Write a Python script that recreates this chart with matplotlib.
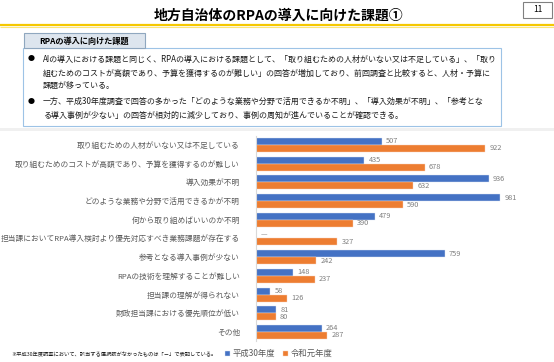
import matplotlib
matplotlib.use("Agg")
import matplotlib.pyplot as plt
from matplotlib.patches import Rectangle

plt.rcParams['font.family'] = ['Noto Sans CJK JP', 'DejaVu Sans']

# ---------------- data ----------------
categories = [
    "取り組むための人材がいない又は不足している",
    "取り組むためのコストが高額であり、予算を獲得するのが難しい",
    "導入効果が不明",
    "どのような業務や分野で活用できるかが不明",
    "何から取り組めばいいのか不明",
    "担当課においてRPA導入検討より優先対応すべき業務課題が存在する",
    "参考となる導入事例が少ない",
    "RPAの技術を理解することが難しい",
    "担当課の理解が得られない",
    "財政担当課における優先順位が低い",
    "その他",
]
h30 = [507, 435, 936, 981, 479, None, 759, 148, 58, 81, 264]
r1 = [922, 678, 632, 590, 390, 327, 242, 237, 126, 80, 287]
series_names = ["平成30年度", "令和元年度"]

title = "地方自治体のRPAの導入に向けた課題①"
page_no = "11"
tab_title = "RPAの導入に向けた課題"
bullet_lines = [
    ["AIの導入における課題と同じく、RPAの導入における課題として、「取り組むための人材がいない又は不足している」、「取り",
     "組むためのコストが高額であり、予算を獲得するのが難しい」の回答が増加しており、前回調査と比較すると、人材・予算に",
     "課題が移っている。"],
    ["一方、平成30年度調査で回答の多かった「どのような業務や分野で活用できるか不明」、「導入効果が不明」、「参考とな",
     "る導入事例が少ない」の回答が相対的に減少しており、事例の周知が進んでいることが確認できる。"],
]
footnote = "※平成30年度調査において、該当する選択肢がなかったものは「－」で表記している。"

BLUE = "#4472C4"
ORANGE = "#ED7D31"

W, H = 554, 362
fig = plt.figure(figsize=(W / 100, H / 100), dpi=100)

# overlay in pixel coordinates
ov = fig.add_axes([0, 0, 1, 1], zorder=0)
ov.set_xlim(0, W)
ov.set_ylim(H, 0)
ov.axis('off')

# title
ov.text(279, 16, title, ha='center', va='center', fontsize=10, fontweight='bold', color='#000000')
# gold line
ov.plot([0, W], [25, 25], color='#F5C800', lw=1.6, solid_capstyle='butt')
ov.plot([0, W], [26.5, 26.5], color='#FBE57A', lw=0.8, solid_capstyle='butt')
# page number box
ov.add_patch(Rectangle((523, 2), 29, 15.5, fill=False, edgecolor='#808080', lw=0.8))
ov.text(537.5, 10, page_no, ha='center', va='center', fontsize=6, color='#000000')

# text box
ov.add_patch(Rectangle((23, 48), 478, 78, facecolor='white', edgecolor='#9DC3E6', lw=0.8))
ov.add_patch(Rectangle((24, 33), 121, 15, facecolor='#DDE5EE', edgecolor='#8FA7BF', lw=0.8))
ov.text(84.5, 41, tab_title, ha='center', va='center', fontsize=5.9, fontweight='bold', color='#000000')

line_y = [[59, 73, 86.5], [101.5, 115]]
for lines, ys in zip(bullet_lines, line_y):
    ov.text(31, ys[0], "●", ha='center', va='center', fontsize=5, color='#000000')
    for ln, yy in zip(lines, ys):
        ov.text(43, yy, ln, ha='left', va='center', fontsize=5.75, color='#1A1A1A')

# light gray strip
ov.add_patch(Rectangle((0, 127.5), W, 3.5, facecolor='#F0F0F0', edgecolor='none'))

# footnote
ov.text(11, 355, footnote, ha='left', va='center', fontsize=3.8, color='#1A1A1A')

# ---------------- bar chart ----------------
left_px, right_px = 256, 256 + 248.8
top_px, bot_px = 135.6, 341.3
ax = fig.add_axes([left_px / W, 1 - bot_px / H, (right_px - left_px) / W, (bot_px - top_px) / H], zorder=2)
ax.patch.set_alpha(0)

n = len(categories)
ys = list(range(n))
bh = 0.375
h30_vals = [v if v is not None else 0 for v in h30]
b1 = ax.barh([y - bh / 2 for y in ys], h30_vals, height=bh, color=BLUE, edgecolor='#DCE4F2', lw=0.3, label=series_names[0])
b2 = ax.barh([y + bh / 2 for y in ys], r1, height=bh, color=ORANGE, edgecolor='#F7D3BC', lw=0.3, label=series_names[1])
ax.bar_label(b1, labels=[str(v) if v is not None else "—" for v in h30], padding=3, fontsize=5.3, color='#7F7F7F')
ax.bar_label(b2, labels=[str(v) for v in r1], padding=3, fontsize=5.3, color='#7F7F7F')

ax.set_xlim(0, 1000)
ax.set_ylim(n - 0.5, -0.5)
ax.set_yticks(ys)
ax.set_yticklabels(categories, fontsize=5.55, color='#595959')
ax.tick_params(axis='y', length=0, pad=11.5)
ax.set_xticks([])
for s in ['top', 'right', 'bottom']:
    ax.spines[s].set_visible(False)
ax.spines['left'].set_color('#D9D9D9')
ax.spines['left'].set_linewidth(0.8)

leg = fig.legend(handles=[b1, b2], labels=series_names, loc='center left',
                 bbox_to_anchor=(225 / W, 1 - 353.5 / H), ncol=2, frameon=False,
                 fontsize=6, handlelength=0.55, handleheight=0.55, handletextpad=0.35,
                 columnspacing=1.0, borderaxespad=0, borderpad=0)
for t in leg.get_texts():
    t.set_color('#595959')

fig.savefig("out.png", dpi=100)
